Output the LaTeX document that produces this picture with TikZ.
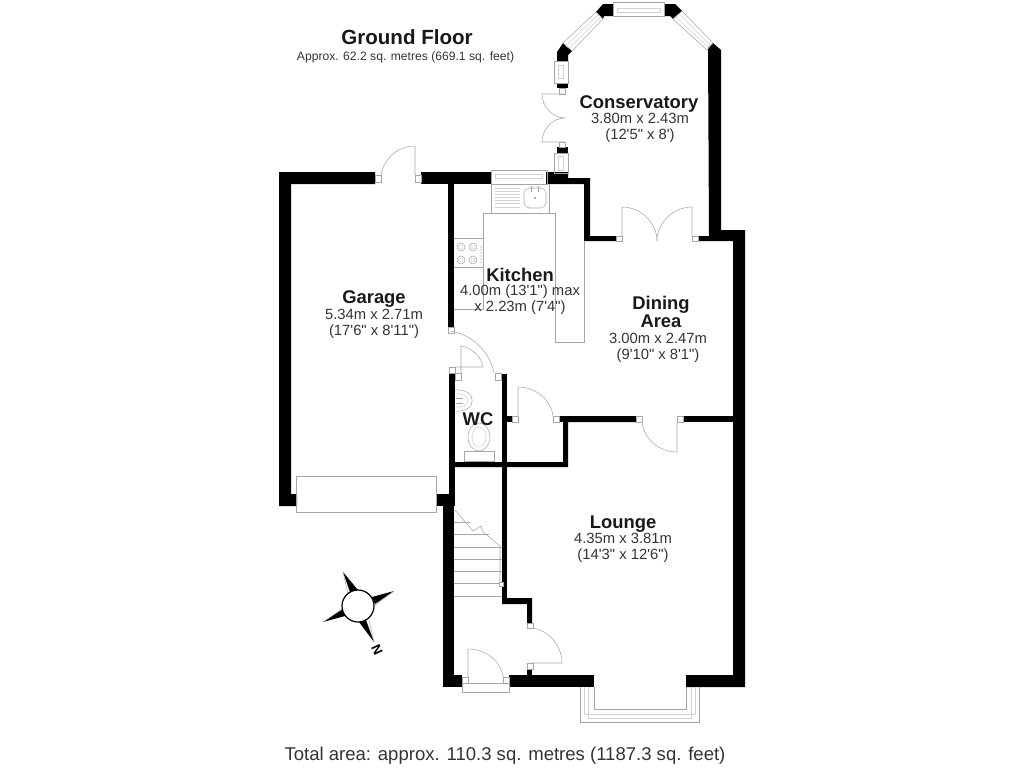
\documentclass[tikz,border=0pt]{standalone}
\usepackage{fontspec}
\setmainfont[Ligatures=TeXOff]{Liberation Sans}

\begin{document}
\begin{tikzpicture}[x=0.75pt,y=-0.75pt,
	wall/.style={fill=black},
	jamb/.style={draw=black!35,fill=white,line width=0.4pt},
	fitting/.style={draw=black!35,line width=0.4pt},
	glazing/.style={draw=black!18,line width=0.4pt},
	title/.style={font=\bfseries\fontsize{15.4}{17}\selectfont,text=black!90},
	room/.style={font=\bfseries\fontsize{13.8}{14}\selectfont,text=black!90,align=center,inner sep=0pt},
	dims/.style={font=\fontsize{11.1}{12}\selectfont,text=black!80,align=center,inner sep=0pt,anchor=north}]
	
	\useasboundingbox (0,0) rectangle (1024,768);
	
	% Garage walls
	\fill[wall] (297,506) -- (279,506) -- (279,172) -- (375,172) -- (375,184) -- (291,184) -- (291,494) -- (297,494) -- cycle;
	\fill[wall] (421,172) rectangle (491,184);
	\fill[wall] (448,184) rectangle (454,327);
	\fill[wall] (436,494) rectangle (449,506);
	
	% Kitchen and WC walls
	\fill[wall] (546,172) -- (568,172) -- (568,178) -- (590,178) -- (590,236) -- (616,236) -- (616,241) -- (584,241) -- (584,184) -- (546,184) -- cycle;
	\fill[wall] (449,373) rectangle (455,506);
	\fill[wall] (502,374) rectangle (507,604);
	\fill[wall] (455,462) -- (563,462) -- (563,416) -- (636,416) -- (636,422) -- (568,422) -- (568,467) -- (455,467) -- cycle;
	\fill[wall] (507,416) rectangle (512,422);
	\fill[wall] (558,416) rectangle (563,422);
	\fill[wall] (682,416) rectangle (733,422);
	
	% Hall and lounge walls
	\fill[wall] (443,506) rectangle (454,675);
	\fill[wall] (443,675) rectangle (462,687);
	\fill[wall] (502,598) -- (532,598) -- (532,623) -- (527,623) -- (527,604) -- (502,604) -- cycle;
	\fill[wall] (527,669) rectangle (532,675);
	\fill[wall] (509,675) rectangle (594,687);
	
	% Outer wall on the right
	\fill[wall] (708,48) -- (713,43) -- (721,50) -- (721,230) -- (745,230) -- (745,687) -- (686,687) -- (686,675) -- (733,675) -- (733,241) -- (697,241) -- (697,236) -- (709,236) -- cycle;
	
	% Conservatory corners
	\fill[wall] (596,12) -- (603,4) -- (613,4) -- (613,16) -- (604,16) -- (603,19) -- cycle;
	\fill[wall] (664,4) -- (675,4) -- (682,11) -- (673,19) -- (670,16) -- (664,16) -- cycle;
	\fill[wall] (557,52) -- (563,43) -- (572,51) -- (568,55) -- (568,61) -- (557,61) -- cycle;
	\fill[wall] (557,83) rectangle (568,88);
	\fill[wall] (557,147) rectangle (568,153);
	
	% Windows
	\draw[fitting] (613,2) rectangle (664,16);
	\draw[glazing] (617,8) rectangle (660,12);
	\draw[fitting] (563,43) -- (596,12) -- (603,19) -- (572,51) -- cycle;
	\draw[glazing] (566,46) -- (598,15) -- (601,17) -- (569,48) -- cycle;
	\draw[fitting] (682,11) -- (713,43) -- (707,50) -- (673,19) -- cycle;
	\draw[glazing] (679,14) -- (710,45) -- (708,47) -- (676,17) -- cycle;
	\draw[fitting] (554,61) rectangle (568,83);
	\draw[glazing] (558,65) rectangle (563,78);
	\draw[fitting] (554,153) rectangle (568,173);
	\draw[glazing] (558,156) rectangle (563,170);
	\draw[fitting] (491,170) rectangle (547,184);
	\draw[glazing] (495,174) rectangle (542,178);
	\draw[fitting] (296,476) rectangle (436,512);
	
	% Door frames
	\foreach \x/\y/\h in {375/175/7,415/175/7,616/236/5,692/236/5,448/327/6,449/367/6,455/373/7,495/373/7,512/416/6,553/416/6,636/416/6,677/416/6,559/88/6,559/142/5,527/623/5,527/663/6,462/677/6,503/677/6} {
		\draw[jamb] (\x,\y) rectangle ++(6,\h);
	}
	
	% Door leaves
	\draw[fitting] (381,175) .. controls (384,158) and (398,146) .. (415,146) -- (415,175);
	\draw[fitting] (565,94) -- (542,94) .. controls (542,106) and (552,118) .. (565,118);
	\draw[fitting] (565,142) -- (542,142) .. controls (542,130) and (552,118) .. (565,118);
	\draw[fitting] (622,236) -- (622,207) .. controls (641,207) and (657,223) .. (657,241);
	\draw[fitting] (692,236) -- (692,207) .. controls (673,207) and (657,223) .. (657,241);
	\draw[fitting] (450,331) .. controls (472,334) and (490,352) .. (494,373);
	\draw[fitting] (461,373) -- (461,346) .. controls (472,348) and (481,356) .. (483,367) -- (455,367);
	\draw[fitting] (518,416) -- (518,387) .. controls (536,387) and (551,400) .. (553,416);
	\draw[fitting] (642,422) .. controls (644,439) and (659,452) .. (677,452) -- (677,422);
	\draw[fitting] (532,628) .. controls (549,630) and (562,646) .. (562,663) -- (532,663);
	\draw[fitting] (468,677) -- (468,649) .. controls (486,649) and (501,661) .. (503,677);
	\draw[fitting] (462,683) rectangle (509,692);
	
	% Kitchen units
	\draw[fitting] (491,184) -- (491,213);
	\draw[fitting] (549,184) -- (549,213);
	\draw[fitting] (454,238) -- (483,238);
	\draw[fitting] (454,267) -- (483,267);
	\draw[fitting] (454,309) -- (483,309) -- (483,213) -- (555,213) -- (555,342) -- (584,342) -- (584,241);
	\foreach \y in {188,191,194,197,200,203,207} {
		\draw[glazing] (495,\y) -- (520,\y);
	}
	\draw[fitting,rounded corners=4pt] (524,188) rectangle (546,208);
	\draw[fitting] (531,186) -- (531,192);
	\draw[fitting] (538,186) -- (538,192);
	\fill[black!50] (535,198) circle (1);
	\foreach \x/\y in {461/247,473/247,461/260,473/260} {
		\draw[fitting] (\x,\y) circle (4);
		\draw[glazing] (\x,\y) circle (2);
	}
	\foreach \y in {247,250,...,262} {
		\fill[black!50] (481,\y) circle (0.6);
	}
	
	% WC fittings
	\draw[fitting] (455,390) .. controls (478,388) and (478,413) .. (455,411);
	\draw[glazing] (455,394) .. controls (472,392) and (472,409) .. (455,407);
	\draw[fitting] (456,398) -- (463,398);
	\draw[fitting] (456,403) -- (463,403);
	\draw[fitting] (479,437) ellipse (11 and 14);
	\draw[glazing] (479,437) ellipse (7 and 10);
	\draw[fitting] (464,451) rectangle (494,461);
	
	% Stairs
	\foreach \y/\xa in {522/470,534/489,547/502,559/502,571/502,583/502,596/502} {
		\draw[fitting] (454,\y) -- (\xa,\y);
	}
	\draw[fitting] (455,510) -- (473,531) -- (481,526) -- (483,532) -- (500,546) -- (500,583);
	\draw[jamb] (499,582) rectangle ++(4,4);
	
	% Bay window
	\draw[fitting] (594,687) -- (594,709) -- (686,709) -- (686,687);
	\draw[fitting] (580,687) -- (580,722) -- (699,722) -- (699,687);
	\draw[glazing] (584,687) -- (584,714) -- (695,714) -- (695,687);
	\draw[glazing] (588,687) -- (588,718) -- (691,718) -- (691,687);
	
	% Compass
	\fill (343,572) -- (350,592) -- (358,590) -- cycle;
	\fill (394,591) -- (372,597) -- (375,604) -- cycle;
	\fill (323,622) -- (345,616) -- (343,609) -- cycle;
	\fill (374,642) -- (359,622) -- (366,620) -- cycle;
	\draw[fitting] (343,572) -- (348,594);
	\draw[fitting] (394,591) -- (374,606);
	\draw[fitting] (323,622) -- (342,609);
	\draw[fitting] (374,642) -- (369,620);
	\draw[fill=white,line width=0.9pt] (358,606) circle (16);
	\node[font=\bfseries\fontsize{10}{11}\selectfont,rotate=-65,inner sep=0pt] (north) at (377,650) {N};
	
	% Labels
	\node[title] (ground) at (407,37) {Ground Floor};
	\node[dims,anchor=center,font=\fontsize{9.1}{10}\selectfont] (approx) at (405.5,57) {Approx. 62.2 sq. metres (669.1 sq. feet)};
	
	\node[room] (conservatory) at (639,104) {Conservatory};
	\node[dims] (conservatorydims) at (640,113) {3.80m x 2.43m\\(12'5" x 8')};
	
	\node[room] (garage) at (374,299) {Garage};
	\node[dims] (garagedims) at (374,309) {5.34m x 2.71m\\(17'6" x 8'11")};
	
	\node[room] (kitchen) at (520,275) {Kitchen};
	\node[dims] (kitchendims) at (520,285) {4.00m (13'1") max\\x 2.23m (7'4")};
	
	\node[room] (dining) at (661,312) {Dining\\Area};
	\node[dims] (diningdims) at (658,333) {3.00m x 2.47m\\(9'10" x 8'1")};
	
	\node[room] (wc) at (478,419) {WC};
	
	\node[room] (lounge) at (623,524) {Lounge};
	\node[dims] (loungedims) at (623,533) {4.35m x 3.81m\\(14'3" x 12'6")};
	
	\node[dims,anchor=center,font=\fontsize{13.9}{15}\selectfont] (total) at (505,756) {Total area: approx. 110.3 sq. metres (1187.3 sq. feet)};
	
\end{tikzpicture}
\end{document}
